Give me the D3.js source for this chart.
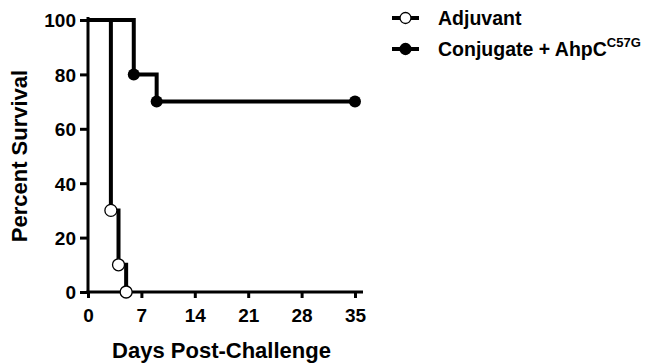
<!DOCTYPE html>
<html>
<head>
<meta charset="utf-8">
<script src="https://cdn.jsdelivr.net/npm/d3@7"></script>
<style>
  body { margin: 0; background: #fff; }
  text { font-family: "Liberation Sans", Arial, sans-serif; font-weight: bold; fill: #000; }
</style>
</head>
<body>
<div id="chart"></div>
<script>
// survival data (day, percent)
const adjuvantDays = [0, 3, 4, 5];
const adjuvantSurvival = [100, 30, 10, 0];
const conjugateDays = [0, 6, 9, 35];
const conjugateSurvival = [100, 80, 70, 70];
const xTicks = [0, 7, 14, 21, 28, 35];
const yTicks = [0, 20, 40, 60, 80, 100];
const seriesNames = ['Adjuvant', 'Conjugate + AhpC'];

const width = 652, height = 363;
const margin = { top: 20, right: 297, bottom: 71, left: 88 };
const innerWidth = width - margin.left - margin.right;
const innerHeight = height - margin.top - margin.bottom;

const svg = d3.select('#chart').append('svg')
  .attr('width', width)
  .attr('height', height);

const g = svg.append('g')
  .attr('transform', `translate(${margin.left},${margin.top})`);

const xScale = d3.scaleLinear().domain([0, 35]).range([0, innerWidth]);
const yScale = d3.scaleLinear().domain([0, 100]).range([innerHeight, 0]);

const xAxis = d3.axisBottom(xScale).tickValues(xTicks).tickSize(6).tickPadding(11);
const yAxis = d3.axisLeft(yScale).tickValues(yTicks).tickSize(8).tickPadding(4);

const xAxisG = g.append('g').attr('transform', `translate(0,${innerHeight})`).call(xAxis);
const yAxisG = g.append('g').call(yAxis);

[xAxisG, yAxisG].forEach(ax => {
  ax.selectAll('.domain').attr('stroke', '#000').attr('stroke-width', 3);
  ax.selectAll('.tick line').attr('stroke', '#000').attr('stroke-width', 3);
  ax.selectAll('.tick text').style('font-size', '19px').attr('fill', '#000');
});
xAxisG.selectAll('.domain').attr('d', `M-1.5,0H${innerWidth + 8}`);
yAxisG.selectAll('.domain').attr('d', `M0,${innerHeight}V-3`);
yAxisG.selectAll('.tick text').attr('dy', '0.36em');

// axis labels
g.append('text')
  .attr('transform', 'rotate(-90)')
  .attr('x', -innerHeight / 2)
  .attr('y', -61)
  .attr('text-anchor', 'middle')
  .style('font-size', '22px')
  .text('Percent Survival');

g.append('text')
  .attr('x', innerWidth / 2)
  .attr('y', innerHeight + 66)
  .attr('text-anchor', 'middle')
  .style('font-size', '22px')
  .text('Days Post-Challenge');

const stepLine = d3.line()
  .x(d => xScale(d[0]))
  .y(d => yScale(d[1]))
  .curve(d3.curveStepAfter);

const adjuvant = adjuvantDays.map((d, i) => [d, adjuvantSurvival[i]]);
const conjugate = conjugateDays.map((d, i) => [d, conjugateSurvival[i]]);

g.append('path').datum(conjugate)
  .attr('d', stepLine)
  .attr('fill', 'none')
  .attr('stroke', '#000')
  .attr('stroke-width', 4);

g.append('path').datum(adjuvant)
  .attr('d', stepLine)
  .attr('fill', 'none')
  .attr('stroke', '#000')
  .attr('stroke-width', 4);

g.selectAll('circle.conj').data(conjugate.slice(1))
  .enter().append('circle')
  .attr('class', 'conj')
  .attr('cx', d => xScale(d[0]))
  .attr('cy', d => yScale(d[1]))
  .attr('r', 6)
  .attr('fill', '#000');

g.selectAll('circle.adj').data(adjuvant.slice(1))
  .enter().append('circle')
  .attr('class', 'adj')
  .attr('cx', d => xScale(d[0]))
  .attr('cy', d => yScale(d[1]))
  .attr('r', 6)
  .attr('fill', '#fff')
  .attr('stroke', '#000')
  .attr('stroke-width', 1.3);

// legend
const legend = svg.append('g').attr('transform', 'translate(392,0)');
const legendRows = [
  { y: 18, fill: '#fff' },
  { y: 49, fill: '#000' }
];
legendRows.forEach((row, i) => {
  legend.append('line')
    .attr('x1', 0).attr('x2', 27)
    .attr('y1', row.y).attr('y2', row.y)
    .attr('stroke', '#000').attr('stroke-width', 4);
  legend.append('circle')
    .attr('cx', 13.5).attr('cy', row.y).attr('r', 5.5)
    .attr('fill', row.fill).attr('stroke', '#000').attr('stroke-width', 1.3);
  const t = legend.append('text')
    .attr('x', 46).attr('y', row.y + 7)
    .style('font-size', '19.5px')
    .text(seriesNames[i]);
  if (i === 1) {
    t.append('tspan')
      .attr('dy', -9)
      .style('font-size', '13px')
      .text('C57G');
  }
});
</script>
</body>
</html>
